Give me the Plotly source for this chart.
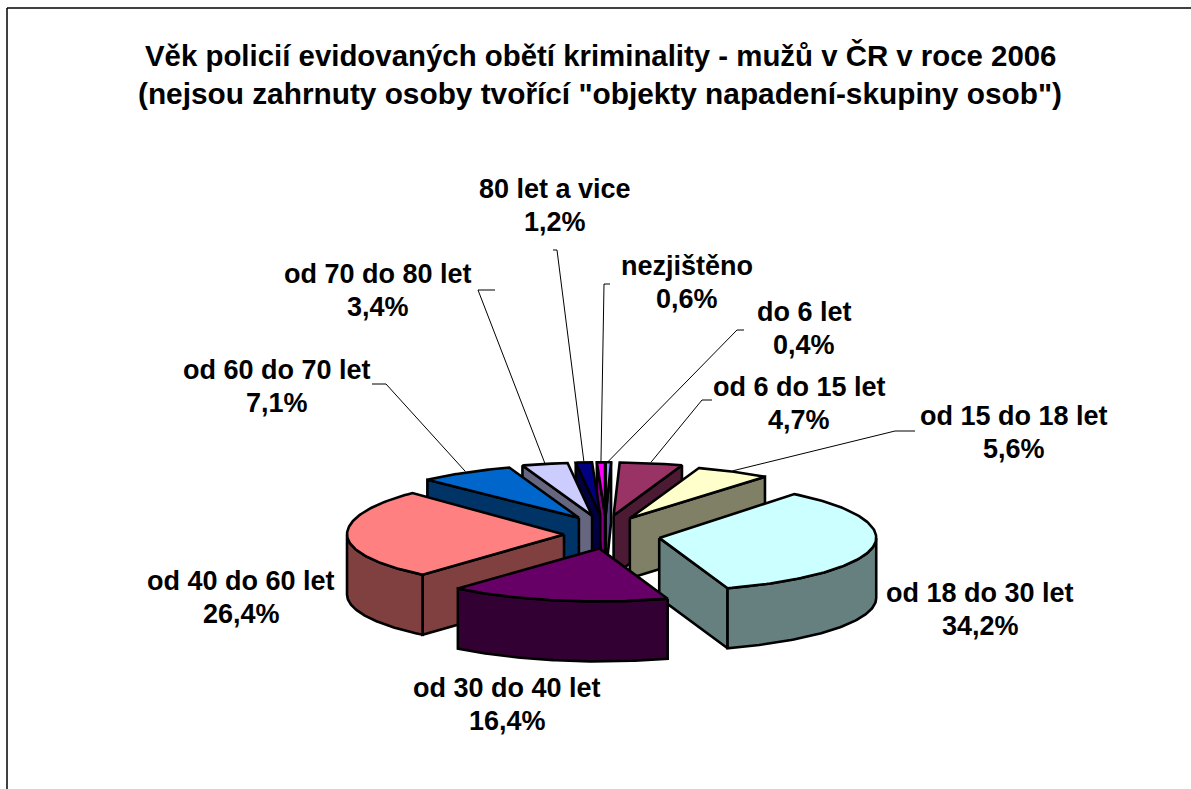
import numpy as np
import plotly.graph_objects as go

# ---- data ----
categories = ["do 6 let", "od 6 do 15 let", "od 15 do 18 let", "od 18 do 30 let", "od 30 do 40 let",
              "od 40 do 60 let", "od 60 do 70 let", "od 70 do 80 let", "80 let a vice", "nezjištěno"]
values = [0.4, 4.7, 5.6, 34.2, 16.4, 26.4, 7.1, 3.4, 1.2, 0.6]
value_labels = ["0,4%", "4,7%", "5,6%", "34,2%", "16,4%", "26,4%", "7,1%", "3,4%", "1,2%", "0,6%"]
top_colors = ["#9999FF", "#993366", "#FFFFCC", "#CCFFFF", "#660066", "#FF8080", "#0066CC", "#CCCCFF", "#000080", "#FF00FF"]
side_colors = ["#4D4D80", "#4D1A33", "#808066", "#668080", "#330033", "#804040", "#003366", "#666680", "#000040", "#800080"]
title_lines = ["Věk policií evidovaných obětí kriminality - mužů v ČR v roce 2006",
               "(nejsou zahrnuty osoby tvořící \"objekty napadení-skupiny osob\")"]

# ---- layout / style ----
W, H = 1191, 789
CX, CY, RX, RY, DEPTH = 608, 532, 217, 53, 60
EXPL_X, EXPL_Y = 50, 16.7
nudge_x = [-3, -3, -2, 2, 1, 6, -3, -5, -4, -2]
nudge_y = [0, 0, 1, 3, 0, 2, 0, 0, 0, 0]
back_ry = [53, 53, 53, 56, 53, 58, 53, 53, 53, 53]
START = 0.0
label_xy = [(804, 328), (799, 403), (1014, 432), (980, 609), (507, 703.5), (241, 597), (277, 385.5), (378, 289.5), (555, 204.5), (687, 282)]
elbows = [(744, 330), (712, 400), (915, 431), None, None, None, (372, 384), (495, 290), (553, 250), (610, 284)]
elbow2 = [(737, 330), (702, 400), (895, 431), None, None, None, (386, 384), (478, 290), (557, 250), (604, 284)]

frac = np.array(values) / sum(values) * 360
starts = START + np.concatenate([[0], np.cumsum(frac)[:-1]])
ends = starts + frac
mids = (starts + ends) / 2


def rim(i, th, ox, oy):
    r = np.radians(th)
    c = np.cos(r)
    return CX + ox + RX * np.sin(r), CY + oy - np.where(c > 0, back_ry[i], RY) * c


fig = go.Figure()


def poly(xs, ys, color, name):
    fig.add_trace(go.Scatter(x=list(xs) + [xs[0]], y=list(ys) + [ys[0]], mode="lines", fill="toself",
                             fillcolor=color, line=dict(color="black", width=2.6), name=name,
                             hoverinfo="name", showlegend=False))


offsets = []
for i in range(len(values)):
    b = np.radians(mids[i])
    offsets.append((EXPL_X * np.sin(b) + nudge_x[i], -EXPL_Y * np.cos(b) + nudge_y[i]))

for i in np.argsort(-np.cos(np.radians(mids))):
    ox, oy = offsets[i]
    a, e, name = starts[i], ends[i], categories[i]
    ax, ay = CX + ox, CY + oy
    # visible cut faces
    if np.sin(np.radians(a)) < 0:
        px, py = rim(i, a, ox, oy)
        poly([ax, px, px, ax], [ay, py, py + DEPTH, ay + DEPTH], side_colors[i], name)
    if np.sin(np.radians(e)) > 0:
        px, py = rim(i, e, ox, oy)
        poly([ax, px, px, ax], [ay, py, py + DEPTH, ay + DEPTH], side_colors[i], name)
    # outer wall (front half only)
    lo, hi = max(a, 90), min(e, 270)
    if hi > lo:
        t = np.linspace(lo, hi, 80)
        xs, ys = rim(i, t, ox, oy)
        poly(list(xs) + list(xs[::-1]), list(ys) + list(ys[::-1] + DEPTH), side_colors[i], name)
    # top face
    t = np.linspace(a, e, 100)
    xs, ys = rim(i, t, ox, oy)
    poly([ax] + list(xs), [ay] + list(ys), top_colors[i], name)

annotations = []
shapes = [
    dict(type="line", xref="x", yref="y", x0=7, y0=8, x1=7, y1=H, line=dict(color="black", width=1.5)),
    dict(type="line", xref="x", yref="y", x0=7, y0=8, x1=W, y1=8, line=dict(color="black", width=1.5)),
]

# leader lines
for i in range(len(values)):
    if elbows[i] is None:
        continue
    px, py = rim(i, mids[i], *offsets[i])
    fig.add_trace(go.Scatter(x=[elbows[i][0], elbow2[i][0], float(px)], y=[elbows[i][1], elbow2[i][1], float(py) - 1],
                             mode="lines", line=dict(color="black", width=1), hoverinfo="skip", showlegend=False))

FONT = "Liberation Sans, Arial, sans-serif"
for line, y, size in zip(title_lines, (55, 93), (29.4, 29.8)):
    annotations.append(dict(x=600, y=y, text=line, showarrow=False, xref="x", yref="y",
                            font=dict(family=FONT, size=size, color="black", weight="bold")))
for i, (x, y) in enumerate(label_xy):
    annotations.append(dict(x=x, y=y - 16, text=categories[i], showarrow=False, xref="x", yref="y",
                            font=dict(family=FONT, size=27, color="black", weight="bold")))
    annotations.append(dict(x=x, y=y + 17, text=value_labels[i], showarrow=False, xref="x", yref="y",
                            font=dict(family=FONT, size=27, color="black", weight="bold")))

fig.update_layout(
    width=W, height=H, margin=dict(l=0, r=0, t=0, b=0), paper_bgcolor="white", plot_bgcolor="white",
    xaxis=dict(range=[0, W], visible=False, fixedrange=True),
    yaxis=dict(range=[H, 0], visible=False, fixedrange=True),
    annotations=annotations, shapes=shapes, showlegend=False,
)
fig.write_html("out.html", config={"displayModeBar": False},
               post_script="document.body.style.margin='0';document.documentElement.style.overflow='hidden';")
